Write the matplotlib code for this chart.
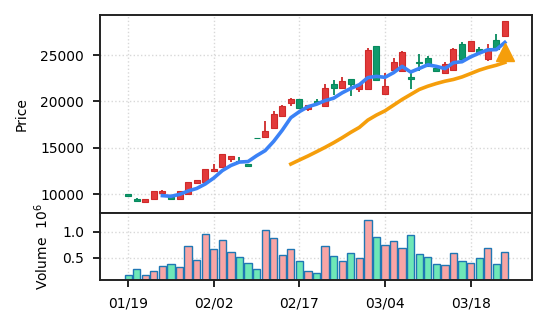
import numpy as np
import matplotlib
matplotlib.use('Agg')
import matplotlib.pyplot as plt

# daily OHLC (trading days), volume in millions
opens = [9980, 9460, 9150, 9460, 10110, 9740, 9460, 10000, 11180, 11360,
         12480, 12900, 13830, 13610, 13230, 16100, 16130, 17100, 18450, 19790,
         20210, 19150, 20000, 19460, 21860, 21500, 22370, 21320, 21320, 25950,
         20750, 23340, 23300, 22640, 24290, 24670, 23590, 23030, 23370, 26240,
         25410, 25620, 24520, 26670, 27000]
highs = [9990, 9600, 9500, 10330, 10460, 9760, 10330, 11300, 11510, 12700,
         13260, 14340, 14130, 14010, 13240, 16110, 17880, 18920, 19600, 20350,
         20230, 19640, 20250, 21860, 22260, 22580, 22400, 21870, 25800, 26000,
         23080, 24630, 25400, 23260, 25100, 24920, 23910, 24200, 25710, 26380,
         26500, 25840, 26160, 27310, 28700]
lows = [9800, 9250, 9130, 9450, 10100, 9450, 9450, 9990, 11070, 11350,
        12470, 12890, 13440, 13450, 12950, 16040, 16100, 16990, 18340, 19500,
        19240, 18990, 19780, 19400, 20680, 21320, 20600, 20970, 21300, 22280,
        20700, 23300, 23290, 21290, 23260, 23800, 23250, 23020, 23260, 24610,
        25400, 25300, 24400, 25600, 26990]
closes = [9820, 9300, 9480, 10320, 10350, 9470, 10320, 11290, 11500, 12690,
          12720, 14330, 14090, 13480, 13010, 16050, 16770, 18600, 19500, 20210,
          19250, 19630, 19790, 21500, 21500, 22150, 21830, 21860, 25520, 22290,
          21680, 24200, 25340, 22370, 24140, 23840, 23300, 24030, 25700, 24620,
          26480, 25330, 25700, 25700, 28690]
volume = [0.18, 0.29, 0.18, 0.25, 0.35, 0.38, 0.33, 0.72, 0.45, 0.95,
          0.67, 0.85, 0.61, 0.51, 0.41, 0.29, 1.03, 0.87, 0.55, 0.67,
          0.43, 0.25, 0.21, 0.73, 0.53, 0.43, 0.59, 0.49, 1.23, 0.89,
          0.75, 0.83, 0.69, 0.93, 0.57, 0.51, 0.39, 0.37, 0.59, 0.43,
          0.41, 0.49, 0.69, 0.39, 0.61]

# 5-day and 20-day averages of the close
ma5 = [9850, 9780, 9980, 10350, 10620, 11100, 11750, 12550, 13100, 13470,
       13520, 14150, 14700, 15700, 16900, 18250, 18900, 19430, 19700, 20090,
       20350, 20930, 21400, 21800, 22570, 22700, 22600, 23100, 23780, 23170,
       23550, 23950, 23780, 23540, 24180, 24280, 24800, 25200, 25560, 25580,
       26360]
ma20 = [13250, 13690, 14120, 14580, 15050, 15550, 16090, 16670, 17200, 17990,
        18530, 18990, 19600, 20210, 20750, 21290, 21640, 21930, 22180, 22370,
        22640, 23000, 23370, 23660, 23900, 24200]
signal_price = 25300

tick_idx = [0, 10, 20, 30, 40]
tick_labels = ['01/19', '02/02', '02/17', '03/04', '03/18']

x = np.arange(len(closes))
o = np.array(opens)
c = np.array(closes)
up = c >= o

fig = plt.figure(figsize=(5.46, 3.22), dpi=100)
ax = fig.add_axes([0.183, 0.340, 0.791, 0.613])
axv = fig.add_axes([0.183, 0.129, 0.791, 0.211], sharex=ax)

red, red_edge = '#e23a3a', '#cf2a2a'
green, green_edge = '#109a6c', '#078a5e'

# candles: wick + body
wick_col = np.where(up, red_edge, green_edge)
ax.vlines(x, lows, highs, colors=wick_col, linewidth=1.3, zorder=2)
body_low = np.minimum(o, c)
body_h = np.maximum(np.abs(c - o), 60)
ax.bar(x, body_h, bottom=body_low, width=0.7,
       color=np.where(up, red, green), edgecolor=wick_col, linewidth=0.8, zorder=3)

ax.plot(x[4:], ma5, color='#3b82f6', lw=2.6, zorder=4)
ax.plot(x[19:], ma20, color='#f59e0b', lw=2.6, zorder=4)
ax.plot(x[-1], signal_price, marker='^', ms=13, color='#f59e0b', zorder=5)

ax.set_ylim(8030, 29300)
ax.set_yticks([10000, 15000, 20000, 25000])
ax.set_ylabel('Price', fontsize=10, labelpad=8)

# volume panel
axv.bar(x, volume, width=0.85, color=np.where(up, '#f8a5a5', '#6ee7b7'),
        edgecolor='#1f77b4', linewidth=1.0, zorder=2)
axv.set_ylim(0.067, 1.367)
axv.set_yticks([0.5, 1.0])
axv.set_ylabel('Volume  $10^{6}$', fontsize=10, labelpad=8)

axv.set_xlim(-3.3, 47.15)
axv.set_xticks(tick_idx)
axv.set_xticklabels(tick_labels)
plt.setp(ax.get_xticklabels(), visible=False)

for a in (ax, axv):
    a.grid(True, linestyle=':', color='#d8d8d8', linewidth=1.0, zorder=0)
    a.set_axisbelow(True)
    for s in a.spines.values():
        s.set_linewidth(1.4)
        s.set_color('#222222')
    a.tick_params(labelsize=10, width=1.4, length=5.3, pad=6.2, color='#222222')
ax.tick_params(axis='x', length=0)

fig.savefig('out.png', dpi=100)
